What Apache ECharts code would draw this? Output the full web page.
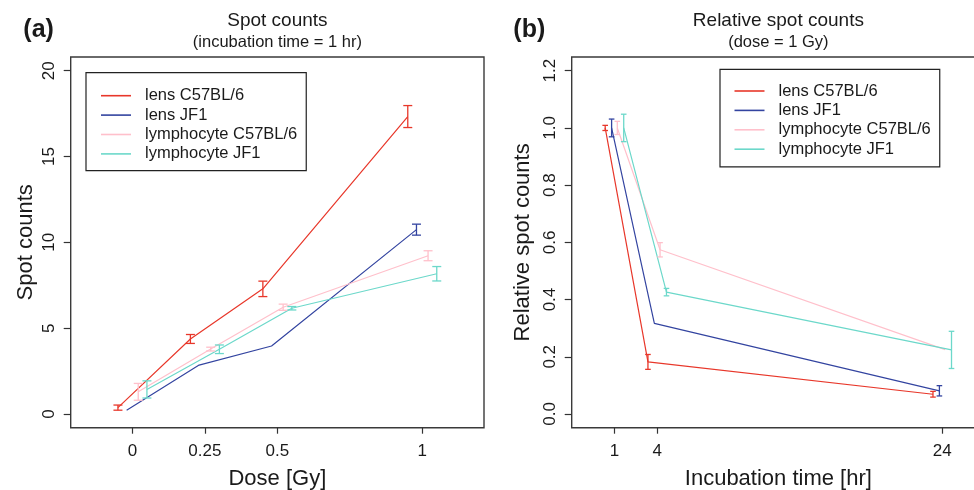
<!DOCTYPE html>
<html>
<head>
<meta charset="utf-8">
<script src="https://cdn.jsdelivr.net/npm/echarts@6/dist/echarts.min.js"></script>
<style>html,body{margin:0;padding:0;background:#fff}#c{width:974px;height:490px}</style>
</head>
<body>
<div id="c"></div>
<script>
// ---------- data ----------
const seriesNames = ['lens C57BL/6', 'lens JF1', 'lymphocyte C57BL/6', 'lymphocyte JF1'];
const doses = [0, 0.25, 0.5, 1];
const times = [1, 4, 24];
const doseJitter = [-0.05, -0.02, 0.02, 0.05];
const timeJitter = [-0.65, -0.2, 0.2, 0.65];

// panel (a): spot counts, incubation 1 hr
const spotLensC57 = [0.37, 4.37, 7.29, 17.33];
const spotLensC57Err = [0.15, 0.26, 0.45, 0.64];
const spotLensJF1 = [0.22, 2.85, 3.96, 10.74];
const spotLensJF1Err = [0, 0, 0, 0.32];
const spotLymC57 = [1.29, 3.78, 6.22, 9.22];
const spotLymC57Err = [0.49, 0.11, 0.18, 0.29];
const spotLymJF1 = [1.43, 3.77, 6.16, 8.17];
const spotLymJF1Err = [0.50, 0.25, 0.10, 0.42];

// panel (b): relative spot counts, dose 1 Gy
const relLensC57 = [1.00, 0.182, 0.069];
const relLensC57Err = [0.009, 0.026, 0.010];
const relLensJF1 = [1.00, 0.317, 0.081];
const relLensJF1Err = [0.031, 0, 0.018];
const relLymC57 = [1.00, 0.574, 0.225];
const relLymC57Err = [0.023, 0.025, 0];
const relLymJF1 = [1.00, 0.426, 0.224];
const relLymJF1Err = [0.048, 0.013, 0.065];

// tick labels
const doseTicks = [0, 0.25, 0.5, 1];
const spotTicks = [0, 5, 10, 15, 20];
const timeTicks = [1, 4, 24];
const relTicks = [0, 0.2, 0.4, 0.6, 0.8, 1.0, 1.2];

// ---------- styling ----------
const colors = ['#e8372a', '#3344a0', '#ffc0cb', '#6cd8ca'];
const FONT = 'Liberation Sans, Arial, Helvetica, sans-serif';
const TXT = '#1a1a1a';
const AX = '#333';

const spotVals = [spotLensC57, spotLensJF1, spotLymC57, spotLymJF1];
const spotErrs = [spotLensC57Err, spotLensJF1Err, spotLymC57Err, spotLymJF1Err];
const relVals = [relLensC57, relLensJF1, relLymC57, relLymJF1];
const relErrs = [relLensC57Err, relLensJF1Err, relLymC57Err, relLymJF1Err];

function pts(xs, jit, ys, es) {
  return xs.map((x, i) => [x + jit, ys[i], es ? es[i] : 0]);
}

function errSeries(gi, data, color, capHalf) {
  return {
    type: 'custom',
    name: 'err',
    xAxisIndex: gi, yAxisIndex: gi,
    encode: { x: 0, y: 1 },
    data: data,
    z: 3,
    renderItem: function (params, api) {
      const x = api.value(0), y = api.value(1), e = api.value(2);
      if (!e) return null;
      const t = api.coord([x, y + e]);
      const b = api.coord([x, y - e]);
      const st = { stroke: color, lineWidth: 1.3 };
      return {
        type: 'group',
        children: [
          { type: 'line', shape: { x1: t[0], y1: t[1], x2: b[0], y2: b[1] }, style: st },
          { type: 'line', shape: { x1: t[0] - capHalf, y1: t[1], x2: t[0] + capHalf, y2: t[1] }, style: st },
          { type: 'line', shape: { x1: b[0] - capHalf, y1: b[1], x2: b[0] + capHalf, y2: b[1] }, style: st }
        ]
      };
    }
  };
}

const series = [];
seriesNames.forEach((n, k) => {
  series.push({
    type: 'line', name: n, xAxisIndex: 0, yAxisIndex: 0,
    data: pts(doses, doseJitter[k], spotVals[k]).map(p => [p[0], p[1]]),
    symbol: 'none', lineStyle: { color: colors[k], width: 1.2 },
    itemStyle: { color: colors[k] }, z: 2
  });
  series.push(errSeries(0, pts(doses, doseJitter[k], spotVals[k], spotErrs[k]), colors[k], 4.5));
});
seriesNames.forEach((n, k) => {
  series.push({
    type: 'line', name: n, xAxisIndex: 1, yAxisIndex: 1,
    data: pts(times, timeJitter[k], relVals[k]).map(p => [p[0], p[1]]),
    symbol: 'none', lineStyle: { color: colors[k], width: 1.2 },
    itemStyle: { color: colors[k] }, z: 2
  });
  series.push(errSeries(1, pts(times, timeJitter[k], relVals[k], relErrs[k]), colors[k], 2.8));
});

function xAxis(gi, min, max, ticks, name, fmt) {
  return {
    type: 'value', gridIndex: gi, min: min, max: max, position: 'bottom',
    name: name, nameLocation: 'middle', nameGap: 40,
    nameTextStyle: { fontSize: 22, color: TXT, fontFamily: FONT },
    axisLine: { show: false, onZero: false },
    axisTick: { show: true, length: 6, customValues: ticks, lineStyle: { color: AX, width: 1.2 } },
    axisLabel: { customValues: ticks, margin: 15, fontSize: 17, color: TXT, fontFamily: FONT, formatter: fmt },
    splitLine: { show: false }
  };
}
function yAxis(gi, min, max, ticks, name, gap, fmt) {
  return {
    type: 'value', gridIndex: gi, min: min, max: max, position: 'left',
    name: name, nameLocation: 'middle', nameGap: gap, nameRotate: 90,
    nameTextStyle: { fontSize: 22, color: TXT, fontFamily: FONT },
    axisLine: { show: false, onZero: false },
    axisTick: { show: true, length: 7, customValues: ticks, lineStyle: { color: AX, width: 1.2 } },
    axisLabel: { customValues: ticks, rotate: 90, margin: 13, fontSize: 17, color: TXT, fontFamily: FONT, formatter: fmt },
    splitLine: { show: false }
  };
}

function legend(left, top, pad) {
  return {
    data: seriesNames, orient: 'vertical', left: left, top: top,
    padding: pad, itemGap: 0, itemWidth: 30, itemHeight: 1.6, icon: 'rect',
    borderColor: '#222', borderWidth: 1.2, borderRadius: 0,
    textStyle: { fontSize: 16.5, color: TXT, fontFamily: FONT, lineHeight: 19.4, padding: [0, 0, 0, 9] },
    selectedMode: false
  };
}

function txt(x, y, s, size, weight, align) {
  return { type: 'text', x: x, y: y, style: { text: s, fill: TXT, font: (weight || 'normal') + ' ' + size + 'px ' + FONT, textAlign: align || 'center', textVerticalAlign: 'middle' } };
}

const gridBase = { top: 57, width: 413.3, height: 370.7, show: true, borderColor: '#3a3a3a', borderWidth: 1.4, containLabel: false, outerBoundsMode: 'none' };

const option = {
  animation: false,
  backgroundColor: '#fff',
  grid: [
    Object.assign({ left: 70.7 }, gridBase),
    Object.assign({ left: 571.7 }, gridBase)
  ],
  xAxis: [
    xAxis(0, -0.213, 1.213, doseTicks, 'Dose [Gy]', v => String(v)),
    xAxis(1, -2, 27, timeTicks, 'Incubation time [hr]', v => String(v))
  ],
  yAxis: [
    yAxis(0, -0.8, 20.8, spotTicks, 'Spot counts', 34, v => String(v)),
    yAxis(1, -0.048, 1.248, relTicks, 'Relative spot counts', 38, v => v.toFixed(1))
  ],
  legend: [legend(86, 72.7, [13.3, 9, 7, 15]), legend(720, 69.3, [12, 9, 8, 14.5])],
  graphic: [
    txt(23.3, 30, '(a)', 25, 'bold', 'left'),
    txt(277.4, 21, 'Spot counts', 19),
    txt(277.4, 42.7, '(incubation time = 1 hr)', 16.5),
    txt(513.3, 30, '(b)', 25, 'bold', 'left'),
    txt(778.4, 21, 'Relative spot counts', 19),
    txt(778.4, 42.7, '(dose = 1 Gy)', 16.5)
  ],
  series: series
};

const chart = echarts.init(document.getElementById('c'), null, { renderer: 'canvas' });
chart.setOption(option);
</script>
</body>
</html>
